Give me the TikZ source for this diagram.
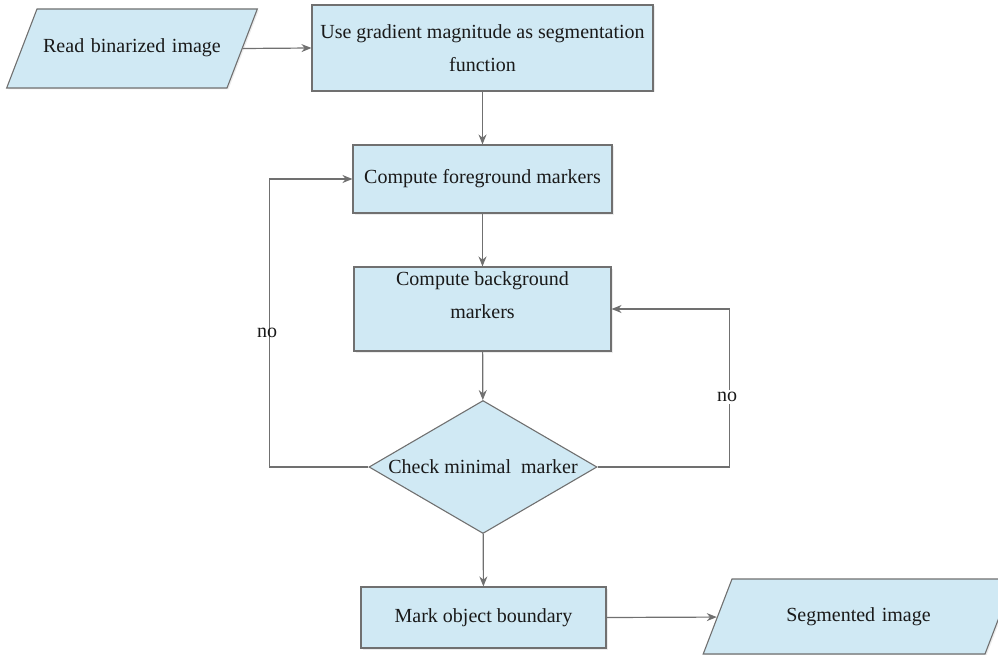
\documentclass[tikz,border=0pt]{standalone}
\usepackage{fontspec}
\setmainfont{Liberation Serif}
\usetikzlibrary{shapes.geometric,shadows,arrows.meta}
\definecolor{boxfill}{RGB}{208,233,244}
\definecolor{boxline}{RGB}{112,112,112}

\begin{document}
\begin{tikzpicture}[x=1pt,y=-1pt,font=\fontsize{20}{33}\selectfont,text=black!90,
	proc/.style={rectangle,draw=boxline,fill=boxfill,line width=1.1pt,align=center,
		drop shadow={opacity=.15,shadow xshift=1.5pt,shadow yshift=-1.5pt}},
	iobox/.style={trapezium,trapezium left angle=69,trapezium right angle=111,
		draw=boxline,fill=boxfill,line width=1.1pt,inner xsep=0pt,align=center,
		text height=14pt,text depth=5pt,
		drop shadow={opacity=.15,shadow xshift=1.5pt,shadow yshift=-1.5pt}},
	decide/.style={diamond,aspect=1.71,draw=boxline,fill=boxfill,line width=1.1pt,inner sep=0pt},
	flow/.style={->,>={Stealth[length=10pt,width=8pt]},draw=boxline,line width=1.2pt}]
			\useasboundingbox (0,0) rectangle (998,655);
			% input and output
			\node[iobox,text width=190pt,inner ysep=30pt] (rd) at (132,48.5){Read binarized image};
			\node[iobox,text width=253pt,inner ysep=28pt] (seg) at (858.5,616.5){Segmented image};
			% processing steps
			\node[proc,minimum width=341,minimum height=86] (grad) at (482.5,48){Use gradient magnitude as segmentation\\function};
			\node[proc,minimum width=259,minimum height=68] (fg) at (482.5,179){Compute foreground markers};
			\node[proc,minimum width=257,minimum height=84,
				label={[align=center,yshift=13.5pt]center:Compute background\\markers}] (bg) at (482.5,309){};
			\node[decide,minimum width=228,minimum height=133] (chk) at (483,467){Check minimal\ \ marker};
			\node[proc,minimum width=245,minimum height=61] (mark) at (483.5,617.5){Mark object boundary};
			% connectors
			\draw (rd.east) edge [flow] (grad.west);
			\draw (grad) edge [flow] (fg);
			\draw (fg) edge [flow] (bg);
			\draw (bg) edge [flow] (chk);
			\draw (chk) edge [flow] (mark);
			\draw (mark.east) edge [flow] (seg);
			\draw[flow] (chk.west) -- ++(-99,0) |- (fg.west);
			\draw[flow] (chk.east) -- ++(132,0) |- (bg.east);
			\node (noleft) at (267,333){no};
			\node[fill=white,inner sep=2pt] (noright) at (727,397){no};
		\end{tikzpicture}
\end{document}
